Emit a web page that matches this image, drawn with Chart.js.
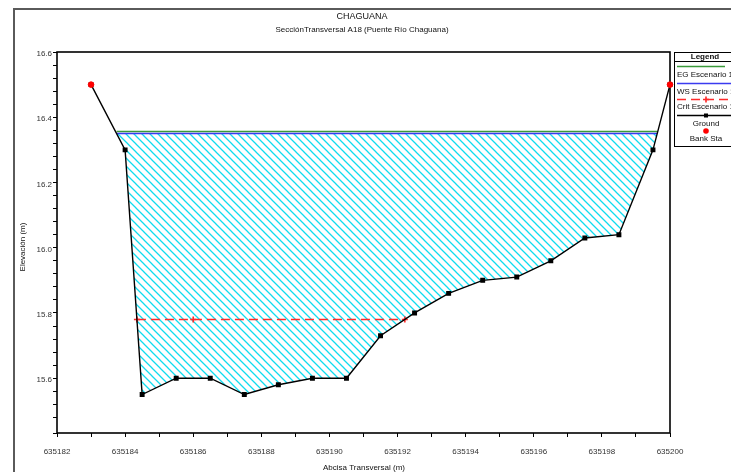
<!DOCTYPE html>
<html>
<head>
<meta charset="utf-8">
<script src="https://cdn.jsdelivr.net/npm/chart.js@4.4.1/dist/chart.umd.min.js"></script>
<style>
  html, body { margin: 0; padding: 0; background: #fff; }
  #wrap { width: 731px; height: 472px; }
</style>
</head>
<body>
<div id="wrap"><canvas id="xs" width="731" height="472"></canvas></div>
<script>
// ground profile (station, elevation)
const groundX = [635183, 635184, 635184.5, 635185.5, 635186.5, 635187.5, 635188.5, 635189.5, 635190.5,
                 635191.5, 635192.5, 635193.5, 635194.5, 635195.5, 635196.5, 635197.5, 635198.5, 635199.5, 635200];
const groundY = [16.50, 16.30, 15.55, 15.60, 15.60, 15.55, 15.58, 15.60, 15.60,
                 15.73, 15.80, 15.86, 15.90, 15.91, 15.96, 16.03, 16.04, 16.30, 16.50];
const bankX = [635183, 635200];
const bankY = [16.50, 16.50];
const wsLevel = 16.35;     // WS Escenario 1
const egLevel = 16.356;    // EG Escenario 1
const critLevel = 15.78;   // Crit Escenario 1
const critMidX = 635186;
const xLabels = [635182, 635184, 635186, 635188, 635190, 635192, 635194, 635196, 635198, 635200];
const yLabels = [15.6, 15.8, 16.0, 16.2, 16.4, 16.6];
const legendLabels = ['EG Escenario 1', 'WS Escenario 1', 'Crit Escenario 1', 'Ground', 'Bank Sta'];

const FONT = "'Liberation Sans', Arial, sans-serif";
const CRIT_RED = '#ff2a2a';

// where a level meets the ground on the way down and back up
function crossings(level) {
  let i = 0;
  while (i < groundX.length - 1 && !(groundY[i] >= level && groundY[i + 1] < level)) i++;
  let j = i + 1;
  while (j < groundX.length - 1 && !(groundY[j] < level && groundY[j + 1] >= level)) j++;
  const at = k => groundX[k] + (groundX[k + 1] - groundX[k]) * (level - groundY[k]) / (groundY[k + 1] - groundY[k]);
  return { i, j, xl: at(i), xr: at(j) };
}

const ground = groundX.map((x, k) => ({ x, y: groundY[k] }));
const bank = bankX.map((x, k) => ({ x, y: bankY[k] }));

const w = crossings(wsLevel);
const water = [{ x: w.xl, y: wsLevel }]
  .concat(ground.slice(w.i + 1, w.j + 1))
  .concat([{ x: w.xr, y: wsLevel }]);
const wsLine = [{ x: w.xl, y: wsLevel }, { x: w.xr, y: wsLevel }];
const egLine = [{ x: w.xl, y: egLevel }, { x: w.xr, y: egLevel }];
const c = crossings(critLevel);
const critLine = [{ x: c.xl, y: critLevel }, { x: critMidX, y: critLevel }, { x: c.xr, y: critLevel }];

const ctx = document.getElementById('xs').getContext('2d');

// cyan diagonal hatch for the wetted area
function makeHatch() {
  const t = document.createElement('canvas');
  t.width = 8; t.height = 8;
  const g = t.getContext('2d');
  g.strokeStyle = '#10dcef';
  g.lineWidth = 1.3;
  g.beginPath();
  g.moveTo(-1, -1); g.lineTo(9, 9);
  g.moveTo(-1, 7); g.lineTo(1, 9);
  g.moveTo(7, -1); g.lineTo(9, 1);
  g.stroke();
  return ctx.createPattern(t, 'repeat');
}

const decor = {
  id: 'decor',
  beforeDatasetsDraw(chart) {
    const g = chart.ctx, a = chart.chartArea;
    g.save();
    g.strokeStyle = '#000';
    g.lineWidth = 1.6;
    g.strokeRect(a.left, a.top, a.right - a.left, a.bottom - a.top);
    g.restore();
  },
  afterDraw(chart) {
    const g = chart.ctx;
    g.save();
    // outer frame
    g.strokeStyle = '#5a5a5a';
    g.lineWidth = 2;
    g.beginPath();
    g.moveTo(14, 472); g.lineTo(14, 9); g.lineTo(731, 9);
    g.stroke();

    // titles
    g.fillStyle = '#111';
    g.textAlign = 'center';
    g.textBaseline = 'middle';
    g.font = '9px ' + FONT;
    g.fillText('CHAGUANA', 362, 17);
    g.font = '8px ' + FONT;
    g.fillText('SecciónTransversal A18 (Puente Río Chaguana)', 362, 30);
    g.fillText('Abcisa Transversal (m)', 364, 468);
    g.save();
    g.translate(23, 247);
    g.rotate(-Math.PI / 2);
    g.fillText('Elevación (m)', 0, 0);
    g.restore();

    // legend box
    const L = 674.5, T = 52.5, cx = 706;
    g.strokeStyle = '#000';
    g.lineWidth = 1;
    g.strokeRect(L, T, 80, 94);
    g.font = 'bold 8px ' + FONT;
    g.fillText('Legend', cx - 1, 57);
    g.beginPath(); g.moveTo(L, 61.5); g.lineTo(731, 61.5); g.stroke();

    g.font = '8px ' + FONT;
    // EG
    g.strokeStyle = '#3a9a3a'; g.lineWidth = 1.5;
    g.beginPath(); g.moveTo(677, 66.5); g.lineTo(725, 66.5); g.stroke();
    g.textAlign = 'left';
    g.fillText(legendLabels[0], 677, 75);
    // WS
    g.strokeStyle = '#3b3bf0';
    g.beginPath(); g.moveTo(677, 83.5); g.lineTo(735, 83.5); g.stroke();
    g.fillText(legendLabels[1], 677, 92);
    // Crit
    g.strokeStyle = CRIT_RED; g.lineWidth = 1.6;
    g.setLineDash([9, 5]);
    g.beginPath(); g.moveTo(677, 99.5); g.lineTo(735, 99.5); g.stroke();
    g.setLineDash([]);
    g.beginPath(); g.moveTo(cx - 3, 99.5); g.lineTo(cx + 3, 99.5); g.moveTo(cx, 96.5); g.lineTo(cx, 102.5); g.stroke();
    g.fillText(legendLabels[2], 677, 107);
    // Ground
    g.strokeStyle = '#000'; g.lineWidth = 1.4;
    g.beginPath(); g.moveTo(677, 115.5); g.lineTo(735, 115.5); g.stroke();
    g.fillStyle = '#000';
    g.fillRect(cx - 2, 113.5, 4, 4);
    g.fillStyle = '#111';
    g.textAlign = 'center';
    g.fillText(legendLabels[3], cx, 124);
    // Bank Sta
    g.fillStyle = '#ff0000';
    g.beginPath(); g.arc(cx, 131, 2.8, 0, Math.PI * 2); g.fill();
    g.fillStyle = '#111';
    g.fillText(legendLabels[4], cx, 139);
    g.restore();
  }
};

new Chart(ctx, {
  type: 'scatter',
  data: {
    datasets: [
      { label: legendLabels[4], data: bank, showLine: false, pointRadius: 2.8,
        pointBackgroundColor: '#ff0000', pointBorderColor: '#ff0000', order: 0, clip: false },
      { label: legendLabels[3], data: ground, showLine: true, borderColor: '#000', borderWidth: 1.4,
        pointStyle: 'rect', pointRadius: 2.5, pointBackgroundColor: '#000', pointBorderColor: '#000',
        order: 1, clip: false },
      { label: legendLabels[2], data: critLine, showLine: true, borderColor: CRIT_RED, backgroundColor: CRIT_RED,
        borderWidth: 1.6, borderDash: [9, 5], pointStyle: 'cross', pointRadius: 3,
        pointBorderColor: CRIT_RED, pointBackgroundColor: CRIT_RED, pointBorderWidth: 1.6, order: 2, clip: false },
      { label: legendLabels[1], data: wsLine, showLine: true, borderColor: '#3b3bf0', borderWidth: 1.5,
        pointRadius: 0, order: 3, clip: false },
      { label: legendLabels[0], data: egLine, showLine: true, borderColor: '#3a9a3a', borderWidth: 1.5,
        pointRadius: 0, order: 4, clip: false },
      { label: 'water', data: water, showLine: true, borderColor: 'rgba(0,0,0,0)', borderWidth: 1,
        pointRadius: 0, fill: { value: wsLevel }, backgroundColor: makeHatch(), order: 5 }
    ]
  },
  options: {
    responsive: false,
    animation: false,
    devicePixelRatio: 1,
    layout: { padding: { top: 52, right: 61, left: 0, bottom: 0 } },
    plugins: { legend: { display: false }, tooltip: { enabled: false }, title: { display: false } },
    scales: {
      x: {
        type: 'linear', min: 635182, max: 635200,
        afterFit: s => { s.height = 39; },
        border: { display: false },
        grid: { drawOnChartArea: false, drawTicks: true, tickLength: 4, color: '#000' },
        ticks: {
          stepSize: 1, autoSkip: false, maxRotation: 0, padding: 10,
          color: '#333', font: { family: FONT, size: 8 },
          callback: v => xLabels.includes(Math.round(v)) && Math.abs(v - Math.round(v)) < 1e-6 ? String(Math.round(v)) : ''
        }
      },
      y: {
        type: 'linear', min: 15.432, max: 16.6,
        afterFit: s => { s.width = 57; },
        border: { display: false },
        grid: { drawOnChartArea: false, drawTicks: true, tickLength: 4, color: '#000' },
        ticks: {
          stepSize: 0.04, autoSkip: false, padding: 1, labelOffset: 2,
          color: '#333', font: { family: FONT, size: 8 },
          callback: v => yLabels.some(t => Math.abs(t - v) < 1e-6) ? v.toFixed(1) : ''
        }
      }
    }
  },
  plugins: [decor]
});
</script>
</body>
</html>
